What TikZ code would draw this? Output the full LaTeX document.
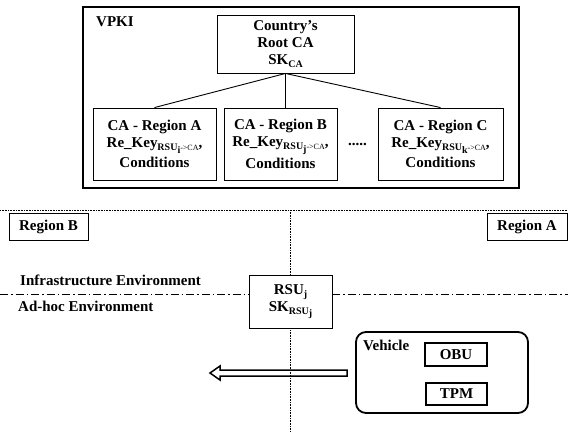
\documentclass[tikz,border=0pt]{standalone}
\usepackage{fontspec}
\setmainfont{Liberation Serif}
\usetikzlibrary{calc}
% subscript helpers
\newcommand\sbx[1]{\raisebox{-3pt}{\fontsize{10}{10}\selectfont #1}}
\newcommand\ssb[1]{\raisebox{-2.5pt}{#1}}
\newcommand\arr{{\mdseries\fontsize{8}{8}\selectfont ->CA}}
\begin{document}
\begin{tikzpicture}[x=1pt,y=-1pt,
  every node/.style={font=\bfseries\fontsize{15}{17}\selectfont, inner sep=0pt},
  box/.style={draw, line width=0.9pt, align=center},
  lbl/.style={anchor=west},
  tag/.style={draw, line width=0.9pt, font=\bfseries\fontsize{15}{17}\selectfont},
  dotline/.style={densely dotted, line width=0.6pt},
  dashdot/.style={line width=0.7pt, dash pattern=on 8pt off 3pt on 1.5pt off 3pt}]
\useasboundingbox (0,0) rectangle (568,432);
\clip (0,0) rectangle (568,432);

% VPKI frame and hierarchy
\draw[line width=2.4pt] (83,7) rectangle (519,188);
\node[lbl] (vpki) at (96,22) {VPKI};
\node[box, minimum width=137pt, minimum height=58pt] (root) at (285.5,44)
  {Country’s\\Root CA\\SK\sbx{CA}};
\node[box, minimum width=123pt, minimum height=72pt] (caA) at (154.5,144)
  {CA - Region A\\Re\_Key\sbx{RSU\ssb{i}\arr},\\[3pt]Conditions};
\node[box, minimum width=113pt, minimum height=72pt] (caB) at (280.5,144)
  {CA - Region B\\Re\_Key\sbx{RSU\ssb{j}\arr},\\[3pt]Conditions};
\node[box, minimum width=125pt, minimum height=72pt] (caC) at (440.5,144)
  {CA - Region C\\Re\_Key\sbx{RSU\ssb{k}\arr},\\[3pt]Conditions};
\node (dots) at (357.5,144) {.....};
\draw[line width=0.9pt] (root.south) -- (caA.north);
\draw[line width=0.9pt] (root.south) -- (root.south |- caB.north);
\draw[line width=0.9pt] (root.south) -- (caC.north);

% region borders
\coordinate (hl) at (0,210);
\coordinate (hr) at (568,210);
\coordinate (vb) at (290.5,432);
\draw[dotline] (hl) -- (hr);
\node[tag, minimum width=79pt, minimum height=27pt] (regB) at (48.5,226.5) {Region B};
\node[tag, minimum width=80pt, minimum height=27pt] (regA) at (527,226.5) {Region A};

% environments
\node[lbl] (infra) at (20,280) {Infrastructure Environment};
\node[lbl] (adhoc) at (18,306) {Ad-hoc Environment};
\node[box, minimum width=83pt, minimum height=53pt] (rsu) at (290.5,301.5)
  {RSU\sbx{j}\\[0pt]SK\sbx{RSU\ssb{j}}};
\coordinate (dl) at (0,294);
\coordinate (dr) at (568,294);
\draw[dashdot] (dl) -- (dl -| rsu.west);
\draw[dashdot] (rsu.east |- dr) -- (dr);
\draw[dotline] (rsu.north -| vb) -- (vb |- hl);
\draw[dotline] (rsu.south -| vb) -- (vb);

% vehicle
\draw[line width=1.8pt, rounded corners=10pt] (356,332) rectangle (528,413);
\node[lbl] (veh) at (363,345) {Vehicle};
\node[box, line width=1.4pt, minimum width=62pt, minimum height=23pt] (obu) at (456,354.5) {OBU};
\node[box, line width=1.4pt, minimum width=61pt, minimum height=22pt] (tpm) at (456.5,394) {TPM};

% movement arrow
\draw[line width=1.5pt, line join=miter] (347,370) -- (220,370) -- (220,366) -- (210,373)
  -- (220,380) -- (220,376) -- (347,376) -- cycle;
\end{tikzpicture}
\end{document}
